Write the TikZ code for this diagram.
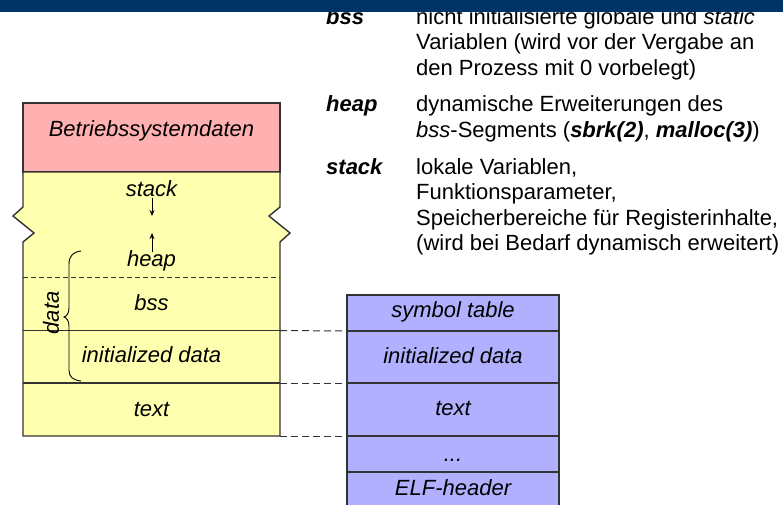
\documentclass[tikz,border=0pt]{standalone}
\usepackage{fontspec}
\setmainfont{Liberation Sans}
\usetikzlibrary{arrows.meta}
\definecolor{barblue}{HTML}{003366}
\definecolor{pinkfill}{HTML}{FFB0B0}
\definecolor{yelfill}{HTML}{FFFFB0}
\definecolor{bluefill}{HTML}{B0B0FF}
\definecolor{edgecol}{HTML}{333333}
\begin{document}
\begin{tikzpicture}[x=1pt,y=-1pt,
  every node/.style={inner sep=0pt, font=\fontsize{22}{25.5}\selectfont},
  lbl/.style={font=\fontsize{22}{25.5}\selectfont\itshape, anchor=base},
  desc/.style={anchor=base west},
  key/.style={anchor=base west, font=\fontsize{22}{25.5}\selectfont\bfseries\itshape},
  boxline/.style={draw=edgecol, line width=1.4pt},
  innerdash/.style={draw=edgecol, line width=1pt, dash pattern=on 5pt off 3pt},
  linkdash/.style={draw=edgecol, line width=1pt, dash pattern=on 7pt off 4pt},
  growarrow/.style={draw=black, line width=1pt, -{Stealth[length=6pt,width=5pt]}},
]
\useasboundingbox (0,0) rectangle (783,504);

% ---------- process image (left) ----------
\fill[pinkfill] (23,103) rectangle (280,172);
\draw[boxline] (23,103) rectangle (280,172);

\fill[yelfill] (23,172) -- (280,172) -- (280,207) -- (269,216) -- (290,233) -- (280,242)
  -- (280,436) -- (23,436) -- (23,242) -- (34,233) -- (13,216) -- (23,207) -- cycle;
\draw[boxline] (23,207) -- (23,172) -- (280,172) -- (280,207) -- (269,216) -- (290,233) -- (280,242) -- (280,436)
  -- (23,436) -- (23,242) -- (34,233) -- (13,216) -- cycle;
\draw[innerdash] (23,277) -- (280,277);
\draw[boxline] (23,330.5) -- (280,330.5);
\draw[boxline] (23,383) -- (280,383);

\node[lbl] (os) at (151.5,136) {Betriebssystemdaten};
\node[lbl] (stack) at (151.5,196) {stack};
\node[lbl] (heap) at (151.5,266) {heap};
\node[lbl] (bss) at (151.5,310) {bss};
\node[lbl] (idata) at (151.5,362) {initialized data};
\node[lbl] (text) at (151.5,416) {text};

\coordinate (sa1) at (152,198);
\coordinate (sa2) at (152,216);
\coordinate (ha1) at (152,252);
\coordinate (ha2) at (152,233);
\draw[growarrow] (sa1) -- (sa2);
\draw[growarrow] (ha1) -- (ha2);

% brace for data
\draw[draw=black, line width=0.9pt] (81,251) .. controls (73,252) and (69,256) .. (69,264) -- (69,308)
  .. controls (69,313) and (67,316) .. (64,317) .. controls (67,318) and (69,321) .. (69,326) -- (69,370)
  .. controls (69,377) and (73,380) .. (81,381);
\node[lbl, anchor=center, rotate=90] (data) at (51,313) {data};

% ---------- ELF file (right) ----------
\begin{scope}
\clip (0,0) rectangle (783,504);
\fill[bluefill] (347,295) rectangle (559,512);
\draw[boxline] (347,295) rectangle (559,512);
\draw[boxline] (347,331) -- (559,331);
\draw[boxline] (347,383) -- (559,383);
\draw[boxline] (347,436) -- (559,436);
\draw[boxline] (347,472) -- (559,472);
\end{scope}

\node[lbl] (esym) at (453,317) {symbol table};
\node[lbl] (eidata) at (453,363) {initialized data};
\node[lbl] (etext) at (453,415) {text};
\node[lbl] (edots) at (453,461) {...};
\node[lbl] (eelf) at (453,495) {ELF-header};

% ---------- dashed correspondences ----------
\coordinate (l1) at (280,330.5);
\coordinate (r1) at (347,331);
\coordinate (l2) at (280,383);
\coordinate (r2) at (347,383);
\coordinate (l3) at (280,436);
\coordinate (r3) at (347,436);
\draw[linkdash] (l1) -- (r1);
\draw[linkdash] (l2) -- (r2);
\draw[linkdash] (l3) -- (r3);

% ---------- explanations ----------
\node[key] (kbss) at (326,24) {bss};
\node[desc] (d1a) at (416,24) {nicht initialisierte globale und \textit{static}};
\node[desc] (d1b) at (416,49.5) {Variablen (wird vor der Vergabe an};
\node[desc] (d1c) at (416,75) {den Prozess mit 0 vorbelegt)};

\node[key] (kheap) at (326,111.5) {heap};
\node[desc] (d2a) at (416,111.5) {dynamische Erweiterungen des};
\node[desc] (d2b) at (416,137) {\textit{bss}-Segments (\textbf{\textit{sbrk(2)}}, \textbf{\textit{malloc(3)}})};

\node[key] (kstack) at (326,174) {stack};
\node[desc] (d3a) at (416,174) {lokale Variablen,};
\node[desc] (d3b) at (416,199.5) {Funktionsparameter,};
\node[desc] (d3c) at (416,225) {Speicherbereiche für Registerinhalte,};
\node[desc] (d3d) at (416,250) {(wird bei Bedarf dynamisch erweitert)};

% ---------- title bar ----------
\fill[barblue] (0,0) rectangle (783,12);
\end{tikzpicture}
\end{document}
